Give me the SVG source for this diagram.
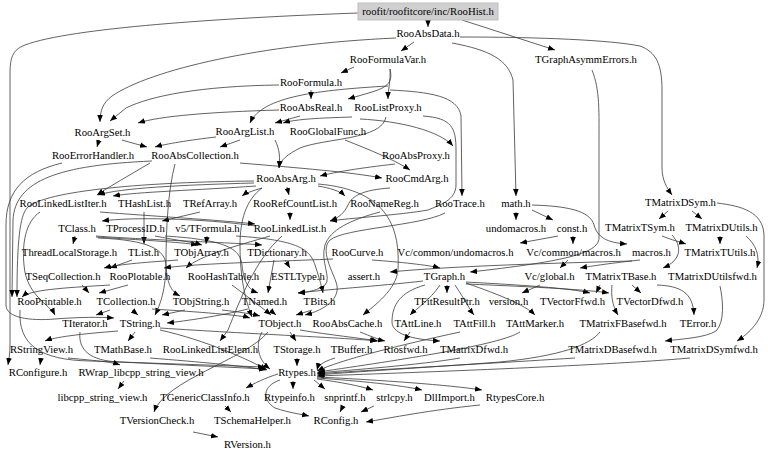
<svg xmlns="http://www.w3.org/2000/svg" width="768" height="459" viewBox="0 0 768 459" font-family="Liberation Serif, Times New Roman, serif">
<style>
text{font-family:"Liberation Serif","Times New Roman",serif;font-size:10.7px;fill:#000;text-anchor:middle}
.e path{fill:none;stroke:#3a3a3a;stroke-width:0.8;marker-end:url(#a)}
</style>
<defs>
<marker id="a" viewBox="0 0 10 10" refX="10" refY="5" markerWidth="7" markerHeight="7" markerUnits="userSpaceOnUse" orient="auto"><path d="M0,1 L10,5 L0,9 z" fill="#000"/></marker>
</defs>
<rect width="768" height="459" fill="#fff"/>
<g class="e" id="edges">
<path d="M428,20 L428,27"/>
<path d="M462,20 L555,50"/>
<path d="M358,13 C220,18 70,28 25,45 C12,50 10,58 10,75 L10,345 C10,353 9,358 8,365"/>
<path d="M460,37 C540,37 610,40 640,46 C656,52 662,64 662,90 L662,168 C662,180 667,188 672,195"/>
<path d="M414,42 L401,51"/>
<path d="M452,43 C490,50 508,60 513,80 L516,196"/>
<path d="M396,38 C260,44 150,70 112,96 C103,103 100,110 100,122"/>
<path d="M354,67 L341,73"/>
<path d="M390,69 C393,82 388,87 372,92 L348,99"/>
<path d="M390,69 C391,80 388,88 388,99"/>
<path d="M388,86 C320,90 262,96 250,123"/>
<path d="M390,90 C430,92 458,96 461,116 L462,196"/>
<path d="M311,90 L311,99"/>
<path d="M279,85 C200,86 150,96 126,108 L110,121"/>
<path d="M279,110 C210,112 160,116 138,123"/>
<path d="M300,116 L275,123"/>
<path d="M352,117 C320,118 296,119 283,123"/>
<path d="M360,119 C400,121 440,131 453,146"/>
<path d="M386,117 C382,140 325,138 300,148 C288,154 280,160 279,168"/>
<path d="M423,116 C452,118 456,128 456,150 L456,185 C456,200 440,205 428,210 C400,215 350,218 330,221"/>
<path d="M99,140 L97,147"/>
<path d="M122,140 C132,143 140,145 147,147"/>
<path d="M240,140 L220,147"/>
<path d="M216,137 C190,140 165,144 155,147"/>
<path d="M240,163 C300,168 350,172 382,178"/>
<path d="M395,164 C360,168 335,172 320,176"/>
<path d="M345,140 C370,150 395,160 410,170"/>
<path d="M275,140 C280,150 280,158 279,168"/>
<path d="M287,187 L289,195"/>
<path d="M318,186 C330,188 340,191 345,196"/>
<path d="M256,186 C200,190 135,192 113,196"/>
<path d="M262,188 C252,191 246,193 242,196"/>
<path d="M254,183 C180,185 120,188 98,195"/>
<path d="M254,181 C150,182 45,190 27,208 C20,216 17,240 17,297"/>
<path d="M262,188 C246,200 240,220 240,245 C240,270 243,295 252,317"/>
<path d="M318,184 C390,190 400,230 398,270 C396,290 375,305 363,315"/>
<path d="M150,163 C130,175 110,186 97,195"/>
<path d="M152,161 C60,165 15,180 13,220 L12,297"/>
<path d="M62,163 C25,172 6,190 6,225 L6,305 C6,318 30,321 55,319 C80,317 100,317 114,318"/>
<path d="M175,164 C168,190 166,230 166,262 C166,290 160,305 155,315"/>
<path d="M390,188 C362,190 352,196 348,205 C344,213 340,217 330,221"/>
<path d="M290,212 L290,220"/>
<path d="M380,212 C350,220 330,230 325,245 C320,262 332,278 325,285 C318,290 310,292 298,293"/>
<path d="M445,213 C420,226 345,228 330,240 C320,250 332,270 336,282 C342,298 325,310 305,315"/>
<path d="M100,212 C150,216 220,220 255,224"/>
<path d="M40,212 C25,222 22,245 24,265 C26,295 50,305 55,315"/>
<path d="M144,212 L144,244"/>
<path d="M200,212 L162,221"/>
<path d="M75,236 L73,244"/>
<path d="M96,236 C150,240 240,243 262,245"/>
<path d="M96,237 C140,240 180,242 198,245"/>
<path d="M98,238 C150,240 165,250 166,265 C167,285 172,292 180,296"/>
<path d="M155,236 C175,240 192,242 202,245"/>
<path d="M165,236 C230,240 240,250 242,265 C244,285 250,290 258,293"/>
<path d="M207,236 L206,244"/>
<path d="M236,236 C300,240 310,250 315,265 C320,280 322,288 323,293"/>
<path d="M270,236 C240,245 200,255 186,268"/>
<path d="M282,236 C255,260 240,300 228,330 L220,341"/>
<path d="M256,226 C200,218 130,217 102,221"/>
<path d="M132,260 L110,268"/>
<path d="M178,260 C150,262 120,264 104,268"/>
<path d="M274,260 L268,293"/>
<path d="M285,260 L290,268"/>
<path d="M372,260 C400,262 428,265 440,268"/>
<path d="M333,259 C260,262 190,264 164,268"/>
<path d="M516,212 L516,220"/>
<path d="M532,210 L553,220"/>
<path d="M532,205 C565,206 590,210 594,225 C598,240 612,243 627,244"/>
<path d="M558,236 L520,243"/>
<path d="M573,236 L573,244"/>
<path d="M568,260 L560,268"/>
<path d="M640,260 C612,263 592,266 580,268"/>
<path d="M632,261 C560,263 450,266 390,272"/>
<path d="M592,70 C600,90 599,110 599,150 L599,238 C599,254 560,262 470,272"/>
<path d="M668,211 L659,219"/>
<path d="M692,211 L702,219"/>
<path d="M717,203 C742,206 763,212 764,235 L764,300 C764,320 748,334 737,341"/>
<path d="M662,236 C672,240 680,242 686,244"/>
<path d="M672,235 C682,246 682,260 663,268"/>
<path d="M720,236 L720,244"/>
<path d="M746,236 C756,245 760,255 757,268"/>
<path d="M600,285 L596,293"/>
<path d="M632,285 L641,293"/>
<path d="M612,285 C611,295 612,305 618,315"/>
<path d="M657,285 C680,286 693,292 694,315"/>
<path d="M720,286 C723,300 725,322 716,331 C705,338 680,339 665,341"/>
<path d="M423,281 C380,286 320,290 298,293"/>
<path d="M440,285 C430,300 415,310 410,315"/>
<path d="M455,285 C465,300 470,310 474,315"/>
<path d="M466,283 C500,295 525,305 535,315"/>
<path d="M447,285 L447,293"/>
<path d="M466,282 C520,285 570,288 590,293"/>
<path d="M466,284 C540,287 590,290 609,293"/>
<path d="M425,285 C400,292 392,305 392,322 C392,336 420,340 440,341"/>
<path d="M540,285 L522,293"/>
<path d="M110,310 L96,315"/>
<path d="M132,310 L138,315"/>
<path d="M152,309 C200,312 240,315 250,318"/>
<path d="M82,285 L89,293"/>
<path d="M110,285 C60,288 30,290 22,297"/>
<path d="M128,285 L99,293"/>
<path d="M232,285 C252,300 265,310 271,315"/>
<path d="M185,310 L162,315"/>
<path d="M222,310 C240,312 252,314 260,316"/>
<path d="M270,310 L276,315"/>
<path d="M248,309 C220,316 185,321 167,323"/>
<path d="M312,310 L296,315"/>
<path d="M135,332 L128,341"/>
<path d="M118,331 C80,334 55,337 45,341"/>
<path d="M160,330 C205,340 250,360 267,370"/>
<path d="M160,328 C250,334 350,338 377,341"/>
<path d="M80,332 C78,350 90,361 120,362 L266,369"/>
<path d="M20,310 C18,345 40,360 90,361 L265,367"/>
<path d="M290,332 L296,341"/>
<path d="M268,332 C245,360 165,380 154,412"/>
<path d="M300,330 C330,335 360,338 378,341"/>
<path d="M262,332 C255,345 258,360 270,369"/>
<path d="M360,332 C370,336 380,340 385,341"/>
<path d="M297,358 L297,366"/>
<path d="M335,358 C322,362 318,366 317,370"/>
<path d="M410,332 L404,341"/>
<path d="M460,332 C400,345 340,360 317,371"/>
<path d="M520,332 C500,345 400,360 318,372"/>
<path d="M460,358 C420,365 350,370 317,373"/>
<path d="M575,358 C450,366 350,371 317,374"/>
<path d="M600,332 C590,345 560,356 500,362 C420,368 350,372 318,375"/>
<path d="M690,358 C600,366 400,373 317,376"/>
<path d="M150,358 C200,362 245,366 266,370"/>
<path d="M41,358 L40,365"/>
<path d="M68,358 C100,361 112,362 120,365"/>
<path d="M124,381 L118,389"/>
<path d="M280,380 C262,386 262,400 275,408 C290,413 300,414 309,416"/>
<path d="M293,381 L293,389"/>
<path d="M314,380 L325,389"/>
<path d="M317,379 C340,382 360,386 373,390"/>
<path d="M317,378 C360,381 400,385 422,390"/>
<path d="M317,377 C380,380 450,385 482,390"/>
<path d="M278,374 C265,378 255,383 246,388"/>
<path d="M225,406 L231,412"/>
<path d="M193,432 L218,437"/>
<path d="M343,406 L340,412"/>
<path d="M374,406 L361,412"/>
<path d="M480,405 C430,410 390,418 366,422"/>
</g>
<g id="n_root"><rect x="358" y="3" width="140" height="17" fill="#cfcfcf" stroke="#bfbfbf"/><text x="428" y="15">roofit/roofitcore/inc/RooHist.h</text></g>
<g id="n_RooAbsData"><text x="428" y="37">RooAbsData.h</text></g>
<g id="n_TGraphAsymmErrors"><text x="586" y="63">TGraphAsymmErrors.h</text></g>
<g id="n_RooFormulaVar"><text x="388" y="63">RooFormulaVar.h</text></g>
<g id="n_RooFormula"><text x="311" y="86">RooFormula.h</text></g>
<g id="n_RooAbsReal"><text x="311" y="111">RooAbsReal.h</text></g>
<g id="n_RooListProxy"><text x="388" y="111">RooListProxy.h</text></g>
<g id="n_RooArgSet"><text x="102.5" y="136">RooArgSet.h</text></g>
<g id="n_RooArgList"><text x="245" y="135">RooArgList.h</text></g>
<g id="n_RooGlobalFunc"><text x="328" y="135">RooGlobalFunc.h</text></g>
<g id="n_RooErrorHandler"><text x="93" y="159">RooErrorHandler.h</text></g>
<g id="n_RooAbsCollection"><text x="195" y="159">RooAbsCollection.h</text></g>
<g id="n_RooAbsProxy"><text x="416" y="159">RooAbsProxy.h</text></g>
<g id="n_RooAbsArg"><text x="286" y="182">RooAbsArg.h</text></g>
<g id="n_RooCmdArg"><text x="417" y="182">RooCmdArg.h</text></g>
<g id="n_RooLinkedListIter"><text x="63" y="207">RooLinkedListIter.h</text></g>
<g id="n_THashList"><text x="144.5" y="207">THashList.h</text></g>
<g id="n_TRefArray"><text x="210" y="207">TRefArray.h</text></g>
<g id="n_RooRefCountList"><text x="295" y="207">RooRefCountList.h</text></g>
<g id="n_RooNameReg"><text x="384.5" y="207">RooNameReg.h</text></g>
<g id="n_RooTrace"><text x="460" y="207">RooTrace.h</text></g>
<g id="n_math"><text x="516" y="207">math.h</text></g>
<g id="n_TMatrixDSym"><text x="680.5" y="206">TMatrixDSym.h</text></g>
<g id="n_TClass"><text x="77" y="232">TClass.h</text></g>
<g id="n_TProcessID"><text x="135.5" y="232">TProcessID.h</text></g>
<g id="n_TFormula"><text x="207.5" y="232">v5/TFormula.h</text></g>
<g id="n_RooLinkedList"><text x="290" y="232">RooLinkedList.h</text></g>
<g id="n_undomacros"><text x="516" y="232">undomacros.h</text></g>
<g id="n_const"><text x="572" y="232">const.h</text></g>
<g id="n_TMatrixTSym"><text x="640" y="231">TMatrixTSym.h</text></g>
<g id="n_TMatrixDUtils"><text x="721.5" y="231">TMatrixDUtils.h</text></g>
<g id="n_ThreadLocalStorage"><text x="69.5" y="256">ThreadLocalStorage.h</text></g>
<g id="n_TList"><text x="143.5" y="256">TList.h</text></g>
<g id="n_TObjArray"><text x="201.5" y="256">TObjArray.h</text></g>
<g id="n_TDictionary"><text x="277" y="256">TDictionary.h</text></g>
<g id="n_RooCurve"><text x="357.5" y="256">RooCurve.h</text></g>
<g id="n_Vc_undomacros"><text x="455.5" y="256">Vc/common/undomacros.h</text></g>
<g id="n_Vc_macros"><text x="573.5" y="256">Vc/common/macros.h</text></g>
<g id="n_macros"><text x="651.5" y="256">macros.h</text></g>
<g id="n_TMatrixTUtils"><text x="720" y="256">TMatrixTUtils.h</text></g>
<g id="n_TSeqCollection"><text x="63" y="280">TSeqCollection.h</text></g>
<g id="n_RooPlotable"><text x="140" y="280">RooPlotable.h</text></g>
<g id="n_RooHashTable"><text x="223.5" y="280">RooHashTable.h</text></g>
<g id="n_ESTLType"><text x="298" y="280">ESTLType.h</text></g>
<g id="n_assert"><text x="364" y="280">assert.h</text></g>
<g id="n_TGraph"><text x="444.5" y="280">TGraph.h</text></g>
<g id="n_Vc_global"><text x="549.5" y="280">Vc/global.h</text></g>
<g id="n_TMatrixTBase"><text x="621" y="280">TMatrixTBase.h</text></g>
<g id="n_TMatrixDUtilsfwd"><text x="712.5" y="280">TMatrixDUtilsfwd.h</text></g>
<g id="n_RooPrintable"><text x="49.5" y="305">RooPrintable.h</text></g>
<g id="n_TCollection"><text x="126" y="305">TCollection.h</text></g>
<g id="n_TObjString"><text x="201" y="305">TObjString.h</text></g>
<g id="n_TNamed"><text x="264.5" y="305">TNamed.h</text></g>
<g id="n_TBits"><text x="319.5" y="305">TBits.h</text></g>
<g id="n_TFitResultPtr"><text x="447" y="305">TFitResultPtr.h</text></g>
<g id="n_version"><text x="508.5" y="305">version.h</text></g>
<g id="n_TVectorFfwd"><text x="572.5" y="305">TVectorFfwd.h</text></g>
<g id="n_TVectorDfwd"><text x="650" y="305">TVectorDfwd.h</text></g>
<g id="n_TIterator"><text x="85" y="327">TIterator.h</text></g>
<g id="n_TString"><text x="140" y="327">TString.h</text></g>
<g id="n_TObject"><text x="280" y="327">TObject.h</text></g>
<g id="n_RooAbsCache"><text x="347.5" y="327">RooAbsCache.h</text></g>
<g id="n_TAttLine"><text x="418" y="327">TAttLine.h</text></g>
<g id="n_TAttFill"><text x="474.5" y="327">TAttFill.h</text></g>
<g id="n_TAttMarker"><text x="535" y="327">TAttMarker.h</text></g>
<g id="n_TMatrixFBasefwd"><text x="623" y="327">TMatrixFBasefwd.h</text></g>
<g id="n_TError"><text x="698" y="327">TError.h</text></g>
<g id="n_RStringView"><text x="41.5" y="353">RStringView.h</text></g>
<g id="n_TMathBase"><text x="123" y="353">TMathBase.h</text></g>
<g id="n_RooLinkedListElem"><text x="210.5" y="353">RooLinkedListElem.h</text></g>
<g id="n_TStorage"><text x="297" y="353">TStorage.h</text></g>
<g id="n_TBuffer"><text x="351.5" y="353">TBuffer.h</text></g>
<g id="n_Riosfwd"><text x="405.5" y="353">Riosfwd.h</text></g>
<g id="n_TMatrixDfwd"><text x="474" y="353">TMatrixDfwd.h</text></g>
<g id="n_TMatrixDBasefwd"><text x="612.5" y="353">TMatrixDBasefwd.h</text></g>
<g id="n_TMatrixDSymfwd"><text x="714" y="353">TMatrixDSymfwd.h</text></g>
<g id="n_RConfigure"><text x="38" y="376">RConfigure.h</text></g>
<g id="n_RWrap"><text x="141" y="376">RWrap_libcpp_string_view.h</text></g>
<g id="n_Rtypes"><text x="297" y="376">Rtypes.h</text></g>
<g id="n_libcpp"><text x="102.5" y="401">libcpp_string_view.h</text></g>
<g id="n_TGenericClassInfo"><text x="205" y="401">TGenericClassInfo.h</text></g>
<g id="n_Rtypeinfo"><text x="289.5" y="401">Rtypeinfo.h</text></g>
<g id="n_snprintf"><text x="345" y="401">snprintf.h</text></g>
<g id="n_strlcpy"><text x="394.5" y="401">strlcpy.h</text></g>
<g id="n_DllImport"><text x="449.5" y="401">DllImport.h</text></g>
<g id="n_RtypesCore"><text x="515" y="401">RtypesCore.h</text></g>
<g id="n_TVersionCheck"><text x="157" y="424">TVersionCheck.h</text></g>
<g id="n_TSchemaHelper"><text x="252.5" y="424">TSchemaHelper.h</text></g>
<g id="n_RConfig"><text x="336" y="424">RConfig.h</text></g>
<g id="n_RVersion"><text x="247.5" y="448">RVersion.h</text></g>
</svg>
